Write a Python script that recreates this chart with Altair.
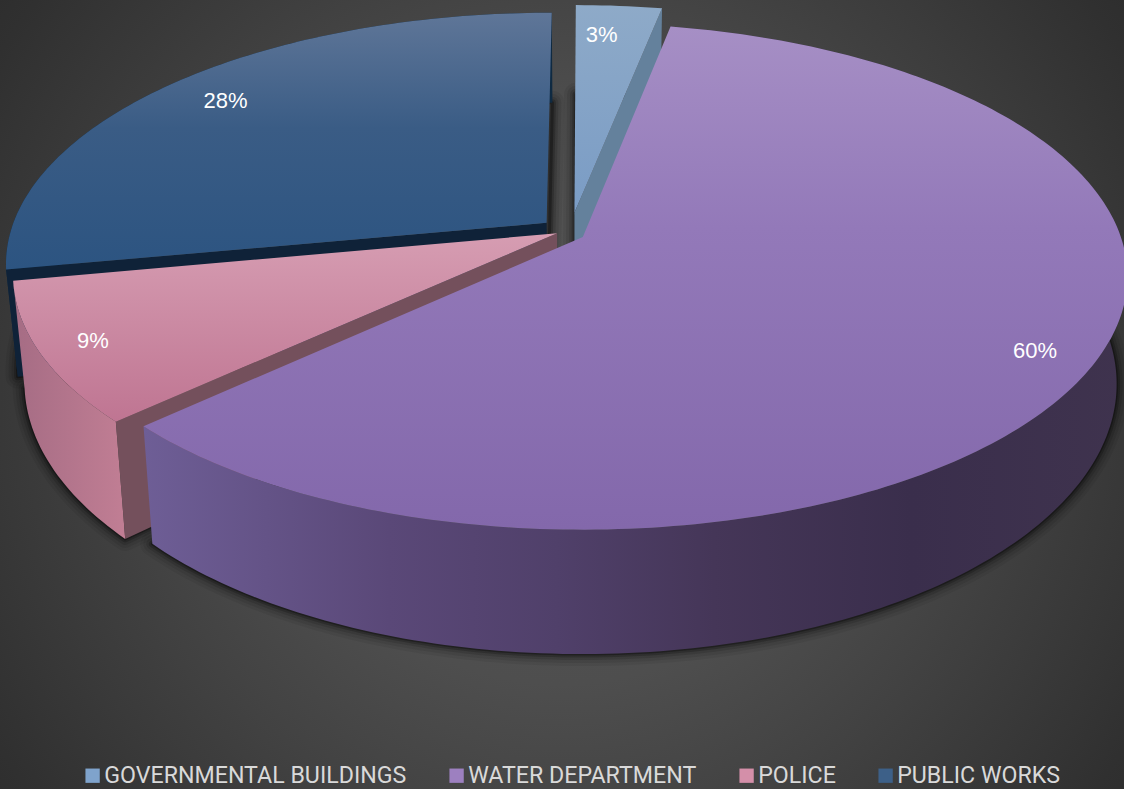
import math
import altair as alt
import pandas as pd

# Budget shares, clockwise from twelve o'clock
categories = ["GOVERNMENTAL BUILDINGS", "WATER DEPARTMENT", "POLICE", "PUBLIC WORKS"]
shares = [3, 60, 9, 28]
legend_colors = ["#7fa3cc", "#9d80c0", "#d48fa9", "#3d6088"]

# How far each slice is pulled out of the pie, in units of the pie radius
explode_x = [-0.02, -0.004, -0.052, -0.072]
explode_y = [-0.10, 0.0, -0.015, -0.058]
# Where each percentage sits: distance from the hub and fraction of the slice's sweep
label_radius = [0.84, 0.895, 0.905, 0.855]
label_sweep = [0.35, 0.5, 0.5, 0.5]

# Perspective camera for the tilted pie
APEX_X, APEX_Y = 585, 237
SCALE_X, SCALE_Y = 538, 247
PERSPECTIVE = 0.156
DEPTH = 105
BASE_SHRINK = 0.98

W, H = 1124, 789


def project(gx, gy, lower=False):
    w = 1 - PERSPECTIVE * gy
    sx = SCALE_X * gx / w
    sy = SCALE_Y * gy / w
    if lower:
        return APEX_X + sx * BASE_SHRINK, APEX_Y + sy + DEPTH / w
    return APEX_X + sx, APEX_Y + sy


def ground(i, theta, radius=1.0):
    return (explode_x[i] + radius * math.sin(theta),
            explode_y[i] - radius * math.cos(theta))


edges = [0.0]
for s in shares:
    edges.append(edges[-1] + s / sum(shares) * 2 * math.pi)


def rim(i):
    a, b = edges[i], edges[i + 1]
    n = max(4, int((b - a) / math.radians(1)))
    return [ground(i, a + (b - a) * k / n) for k in range(n + 1)]


def frame(points):
    return pd.DataFrame({"x": [p[0] for p in points],
                         "y": [p[1] for p in points],
                         "k": list(range(len(points)))})


def top_face(i):
    hub = (explode_x[i], explode_y[i])
    return frame([project(*p) for p in [hub] + rim(i) + [hub]])


def base_face(i):
    hub = (explode_x[i], explode_y[i])
    return frame([project(*p, lower=True) for p in [hub] + rim(i) + [hub]])


def outer_wall(i):
    r = rim(i)
    return frame([project(*p) for p in r] + [project(*p, lower=True) for p in reversed(r)])


def cut_wall(i, side):
    hub = (explode_x[i], explode_y[i])
    tip = ground(i, edges[i + side])
    return frame([project(*hub), project(*tip),
                  project(*tip, lower=True), project(*hub, lower=True)])


x_enc = alt.X("x:Q", scale=alt.Scale(domain=[0, W], nice=False, zero=False), axis=None)
y_enc = alt.Y("y:Q", scale=alt.Scale(domain=[H, 0], nice=False, zero=False), axis=None)


def gradient(colors, horizontal=False):
    return alt.Gradient(
        gradient="linear",
        stops=[alt.GradientStop(color=c, offset=o) for o, c in colors],
        x1=0, y1=0, x2=1 if horizontal else 0, y2=0 if horizontal else 1,
    )


def polygon(df, fill):
    return alt.Chart(df).mark_line(fill=fill, strokeOpacity=0, interpolate="linear").encode(
        x=x_enc, y=y_enc, order="k:Q")


# Page background: a soft radial glow, stretched vertically
backdrop = alt.Chart(pd.DataFrame({"x": [0], "x2": [W], "y": [-310], "y2": [1110]})).mark_rect(
    fill=alt.Gradient(
        gradient="radial",
        stops=[alt.GradientStop(color="#565656", offset=0),
               alt.GradientStop(color="#4e4e4e", offset=0.40),
               alt.GradientStop(color="#434343", offset=0.60),
               alt.GradientStop(color="#303030", offset=0.93),
               alt.GradientStop(color="#2d2d2d", offset=1)],
        x1=0.5, y1=0.5, r1=0, x2=0.5, y2=0.5, r2=0.5)
).encode(x=x_enc, x2="x2:Q", y=y_enc, y2="y2:Q")

# Drop shadow hugging the underside of the slices
shadows = []
for width, alpha in [(24, 0.06), (18, 0.08), (12, 0.12), (7, 0.20), (3, 0.30)]:
    for i in range(4):
        shadows.append(
            alt.Chart(base_face(i)).mark_line(
                stroke="#000000", strokeWidth=width, strokeOpacity=alpha,
                strokeJoin="round", interpolate="linear"
            ).encode(x=x_enc, y=y_enc, order="k:Q")
        )

public_layers = [
    polygon(outer_wall(3), "#0f2a42"),
    polygon(cut_wall(3, 0), "#0f2238"),
    polygon(top_face(3), gradient([(0, "#5f7698"), (0.45, "#3a5c85"), (1, "#2c5481")])),
]
government_layers = [
    polygon(cut_wall(0, 1), "#64819c"),
    polygon(top_face(0), gradient([(0, "#8eaac8"), (1, "#7a9cc5")])),
]
police_layers = [
    polygon(outer_wall(2), gradient([(0, "#a56c84"), (1, "#c17e94")], horizontal=True)),
    polygon(cut_wall(2, 0), "#74505c"),
    polygon(top_face(2), gradient([(0, "#d69db2"), (1, "#bf7592")])),
]
water_layers = [
    polygon(outer_wall(1), gradient(
        [(0, "#6e5e96"), (0.25, "#5a4878"), (0.42, "#50406a"), (0.58, "#453658"),
         (0.78, "#3a2e4c"), (1, "#3f334e")], horizontal=True)),
    polygon(top_face(1), gradient([(0, "#a68fc5"), (0.4, "#9379b9"), (1, "#8368ab")])),
]

# Percentage labels placed inside each slice
label_rows = []
for i, share in enumerate(shares):
    angle = edges[i] + (edges[i + 1] - edges[i]) * label_sweep[i]
    px, py = project(*ground(i, angle, label_radius[i]))
    label_rows.append({"x": px, "y": py, "label": f"{share}%"})
labels = alt.Chart(pd.DataFrame(label_rows)).mark_text(
    color="#ffffff", font="Liberation Sans", fontSize=22, align="center", baseline="middle"
).encode(x=x_enc, y=y_enc, text="label:N")

# Zero-sized points that only carry the legend
legend_layer = alt.Chart(pd.DataFrame({"x": [0] * 4, "y": [0] * 4, "name": categories})).mark_point(
    size=0, filled=True
).encode(
    x=x_enc, y=y_enc,
    color=alt.Color(
        "name:N",
        scale=alt.Scale(domain=categories, range=legend_colors),
        sort=None,
        legend=alt.Legend(
            title=None, orient="none", legendX=81, legendY=764, direction="horizontal",
            columns=4, columnPadding=38, symbolType="square", symbolSize=205,
            symbolStrokeWidth=0, symbolOpacity=1, labelOffset=0, labelLimit=500,
            labelFont="Roboto", labelFontSize=23.2, labelColor="#d9d9d9",
        ),
    ),
)

chart = alt.layer(
    backdrop, *shadows, *public_layers, *government_layers, *police_layers, *water_layers,
    labels, legend_layer
).properties(
    width=W, height=H, padding=0, autosize=alt.AutoSizeParams(type="none"),
    background="#3c3c3c"
).configure_view(stroke=None)

chart.save("out.html", embed_options={"renderer": "svg", "actions": False})
